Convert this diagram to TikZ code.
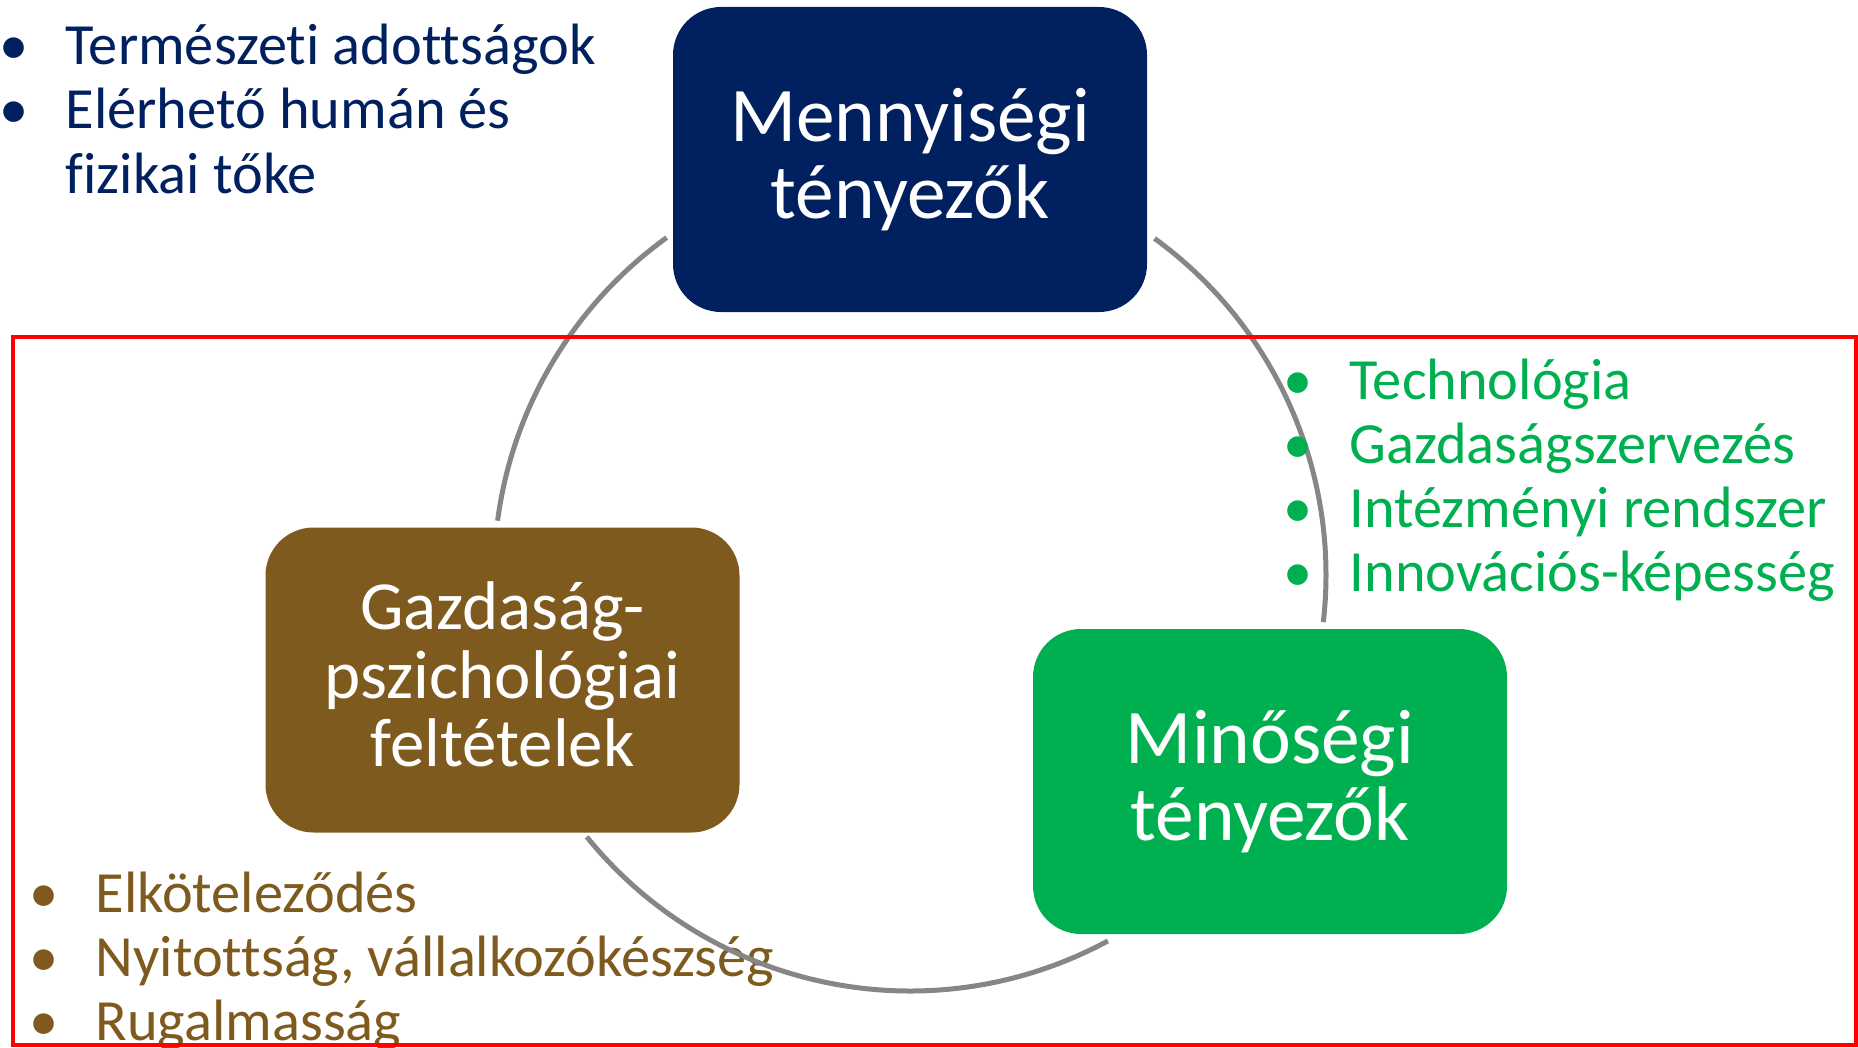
\documentclass[tikz,border=0pt]{standalone}
\usepackage{fontspec}
\setmainfont{Carlito}[Ligatures={NoCommon}]
\usetikzlibrary{calc}
\definecolor{navyc}{HTML}{002060}
\definecolor{brownc}{HTML}{7F5A1E}
\definecolor{greenc}{HTML}{00B050}
\definecolor{cycgray}{HTML}{868686}
\newcommand{\blt}{\llap{\makebox[10.4mm][c]{•}}}
\tikzset{
  factorbox/.style={rounded corners=4.8mm,minimum width=47.4mm,
    minimum height=30.5mm,inner sep=0pt,text=white,align=center},
  qtybox/.style={factorbox,fill=navyc,font=\fontsize{22}{21.9}\selectfont},
  psybox/.style={factorbox,fill=brownc,font=\fontsize{19.6}{19.5}\selectfont},
  qualbox/.style={factorbox,fill=greenc,font=\fontsize{22}{21.9}\selectfont},
  item/.style={anchor=base west,inner sep=0pt,font=\fontsize{16.6}{18.2}\selectfont},
  cycarc/.style={draw=cycgray,line width=0.5mm},
  frame/.style={draw=red,line width=0.45mm},
}

\begin{document}
\begin{tikzpicture}[x=0.1mm,y=-0.1mm]
  \useasboundingbox (0,0) rectangle (1858,1047);
  % brown list under the cycle
  \node[item,text=brownc] (comm) at (95,912) {\blt Elköteleződés};
  \node[item,text=brownc] (open) at (95,976) {\blt Nyitottság, vállalkozókészség};
  \node[item,text=brownc] (flex) at (95,1040) {\blt Rugalmasság};
  % cycle
  \coordinate (ctr) at (910,575);
  \coordinate (c1) at ($(ctr)+(125.8:41.6mm)$);
  \coordinate (c2) at ($(ctr)+(54:41.6mm)$);
  \coordinate (c3) at ($(ctr)+(219:41.6mm)$);
  \draw[cycarc] (c1) arc[start angle=125.8,end angle=172.5,radius=41.6mm];
  \draw[cycarc] (c2) arc[start angle=54,end angle=-6.5,radius=41.6mm];
  \draw[cycarc] (c3) arc[start angle=219,end angle=298.4,radius=41.6mm];
  % lists
  \node[item,text=navyc] (nat) at (65,65) {\blt Természeti adottságok};
  \node[item,text=navyc] (hum) at (65,129) {\blt Elérhető humán és};
  \node[item,text=navyc] (hum2) at (65,193) {fizikai tőke};
  \node[item,text=greenc] (tech) at (1349,399) {\blt Technológia};
  \node[item,text=greenc] (org) at (1349,463) {\blt Gazdaságszervezés};
  \node[item,text=greenc] (inst) at (1349,527) {\blt Intézményi rendszer};
  \node[item,text=greenc] (inno) at (1349,591) {\blt Innovációs-képesség};
  \draw[frame] (13,337) rectangle (1856,1045);
  % boxes
  \node[qtybox] (qty) at (910,159.5) {Mennyiségi\\tényezők};
  \node[psybox] (psy) at (502.5,680) {Gazdaság-\\pszichológiai\\feltételek\vphantom{g}};
  \node[qualbox] (qual) at (1270,781.5) {Minőségi\\tényezők};
\end{tikzpicture}
\end{document}
